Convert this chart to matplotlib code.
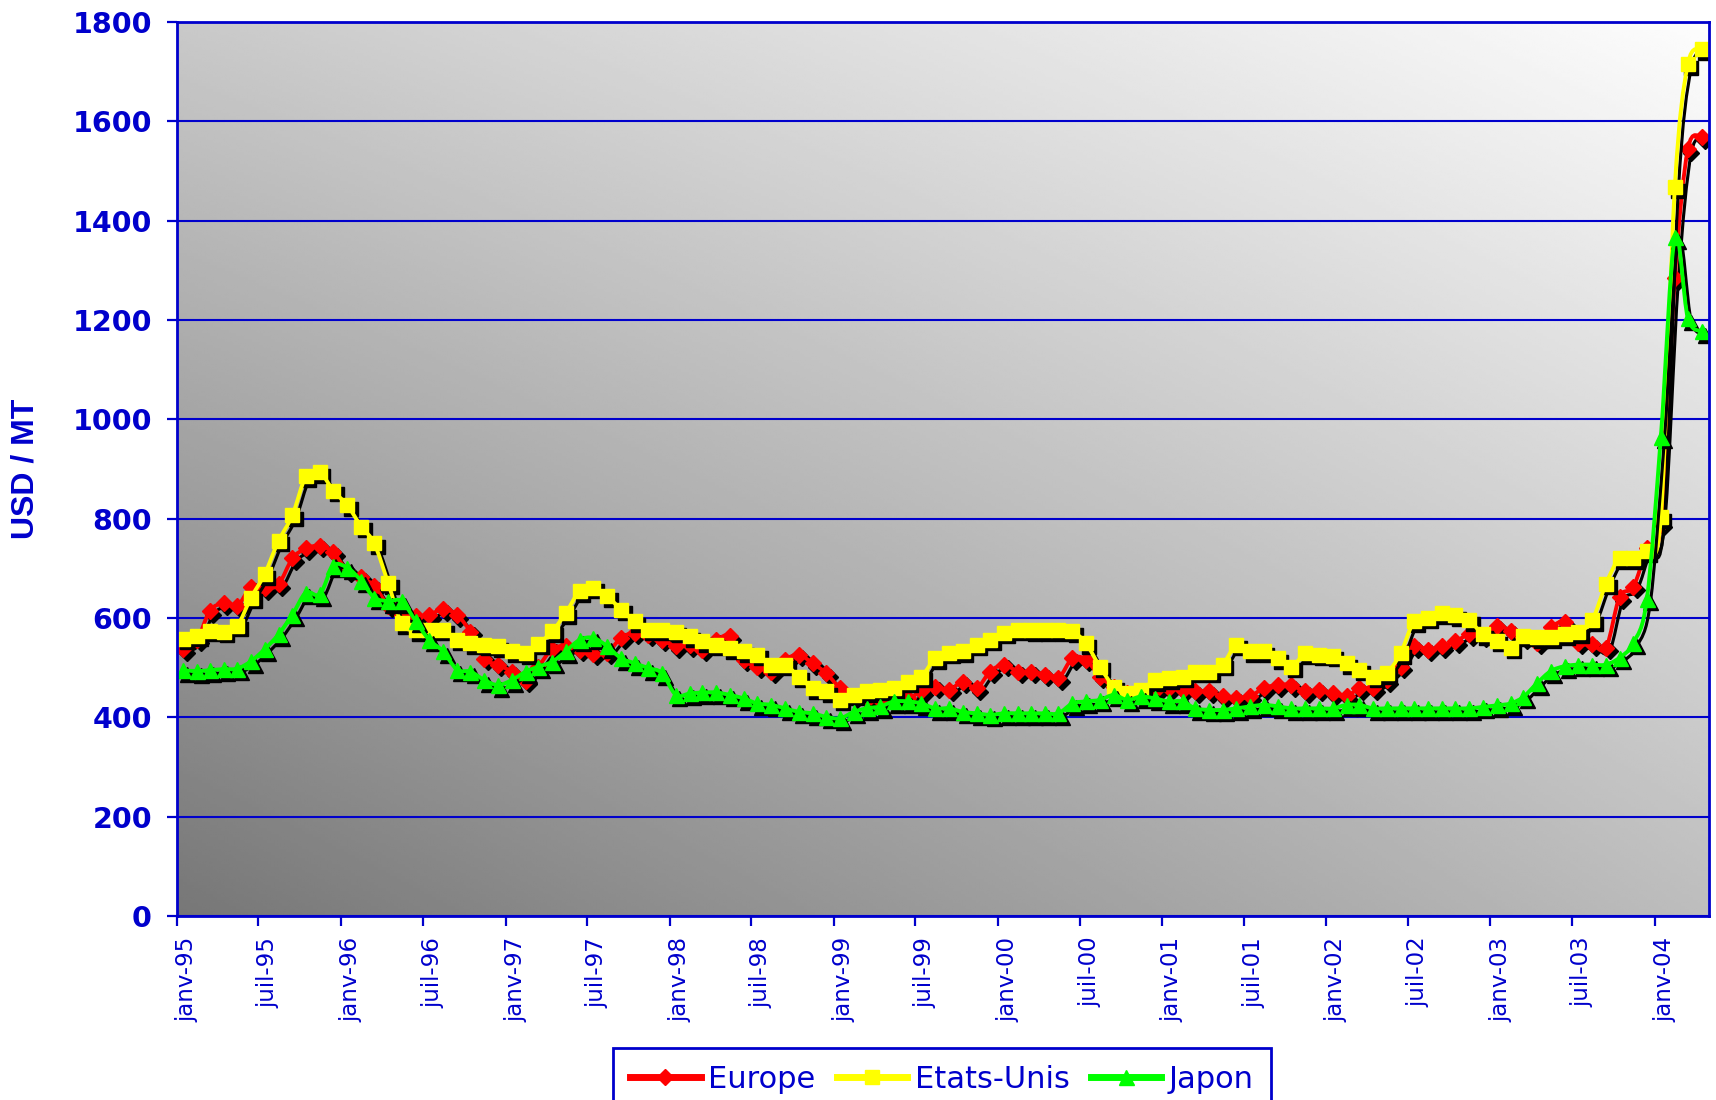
import numpy as np
import pandas as pd
import matplotlib
matplotlib.use("Agg")
import matplotlib.pyplot as plt
import matplotlib.dates as mdates
from matplotlib.path import Path
from matplotlib.patches import PathPatch
from matplotlib.lines import Line2D
from matplotlib.transforms import ScaledTranslation

# monthly prices, janv-95 .. avr-04 (USD / MT)
europe = [537, 556, 614, 630, 624, 662, 660, 668, 720, 740, 745, 732, 695, 682, 664, 625, 607, 603,
          606, 618, 606, 572, 518, 506, 492, 474, 502, 538, 543, 536, 528, 530, 560, 570, 566, 556, 543,
          545, 536, 556, 563, 516, 502, 492, 516, 526, 509, 489, 459, 442, 435, 435, 438, 438, 452, 462,
          455, 472, 459, 492, 506, 492, 492, 486, 479, 519, 516, 482, 462, 448, 448, 452, 459, 455, 452,
          452, 442, 438, 442, 459, 465, 465, 452, 455, 448, 442, 459, 459, 475, 502, 543, 536, 543, 553,
          567, 564, 584, 574, 561, 550, 581, 591, 550, 547, 540, 642, 663, 740, 790, 1284, 1544, 1568]

etats_unis = [558, 564, 574, 572, 584, 641, 688, 755, 807, 885, 893, 856, 827, 784, 750, 670, 589, 575,
              576, 576, 556, 549, 546, 543, 533, 529, 548, 573, 610, 654, 661, 644, 617, 593, 576, 576, 572,
              563, 553, 546, 539, 533, 526, 506, 506, 482, 459, 452, 435, 445, 452, 455, 459, 472, 482, 519,
              530, 533, 546, 556, 570, 576, 575, 575, 575, 573, 549, 502, 462, 448, 455, 475, 479, 482, 492,
              492, 506, 546, 533, 533, 519, 502, 529, 526, 524, 509, 496, 482, 489, 529, 593, 600, 610, 606,
              595, 567, 554, 540, 564, 561, 561, 567, 571, 595, 669, 720, 720, 734, 803, 1467, 1715, 1745]

japon = [495, 493, 495, 497, 498, 513, 537, 567, 607, 651, 648, 705, 701, 675, 641, 634, 634, 594,
         556, 533, 496, 492, 475, 465, 475, 492, 502, 512, 533, 556, 560, 543, 519, 509, 499, 489, 445,
         448, 450, 450, 445, 438, 428, 425, 418, 411, 408, 401, 398, 411, 418, 422, 432, 432, 428, 418,
         418, 411, 408, 405, 408, 408, 408, 408, 408, 428, 432, 435, 445, 435, 442, 438, 432, 432, 418,
         415, 415, 418, 422, 425, 422, 418, 418, 418, 418, 425, 425, 418, 418, 418, 418, 418, 418, 418,
         418, 421, 424, 428, 441, 469, 493, 503, 506, 506, 506, 520, 550, 639, 965, 1367, 1204, 1177]

series_names = ["Europe", "Etats-Unis", "Japon"]
series_colors = ["#FF0000", "#FFFF00", "#00FF00"]
series_markers = ["D", "s", "^"]
series_sizes = [7.8, 10.3, 10.8]

month_names = {1: "janv", 7: "juil"}
blue = "#0000CC"

months = pd.date_range("1995-01-01", periods=len(europe), freq="MS")
x = mdates.date2num((months + pd.Timedelta(days=14)).values)
tick_dates = pd.date_range("1995-01-01", "2004-01-01", freq="6MS")
tick_labels = [f"{month_names[d.month]}-{d.year % 100:02d}" for d in tick_dates]


def smooth_path(xs, ys):
    # bezier through every point, excel-style smoothing
    pts = np.column_stack([xs, ys])
    n = len(pts)
    verts = [pts[0]]
    codes = [Path.MOVETO]
    for i in range(n - 1):
        p0 = pts[i - 1] if i > 0 else pts[i]
        p1, p2 = pts[i], pts[i + 1]
        p3 = pts[i + 2] if i + 2 < n else pts[i + 1]
        verts += [p1 + (p2 - p0) / 6.0, p2 - (p3 - p1) / 6.0, p2]
        codes += [Path.CURVE4] * 3
    return Path(np.array(verts), codes)


fig = plt.figure(figsize=(17.16, 11), dpi=100)
ax = fig.add_axes([0.1031, 0.1673, 0.8928, 0.8127])

# diagonal grey gradient behind the plot
gx, gy = np.meshgrid(np.linspace(0, 1, 400), np.linspace(0, 1, 300))
grad = (119 + 70 * gx + 82 * gy - 18 * gx * gy) / 255.0
ax.imshow(grad, extent=(0, 1, 0, 1), transform=ax.transAxes, origin="lower",
          cmap="gray", vmin=0, vmax=1, aspect="auto", zorder=0, interpolation="bilinear")

shadow = ScaledTranslation(3.5 / 100, -3.5 / 100, fig.dpi_scale_trans)
lw = 2.8
for k, vals in enumerate([europe, etats_unis, japon]):
    y = np.array(vals, dtype=float)
    path = smooth_path(x, y)
    z = 3 + k
    ax.add_patch(PathPatch(path, fill=False, ec="black", lw=lw * 0.8, joinstyle="round",
                           transform=ax.transData + shadow, zorder=z))
    ax.plot(x, y, ls="none", marker=series_markers[k], ms=series_sizes[k], color="black",
            transform=ax.transData + shadow, zorder=z)
    ax.add_patch(PathPatch(path, fill=False, ec=series_colors[k], lw=lw, joinstyle="round",
                           zorder=z + 0.5))
    ax.plot(x, y, ls="none", marker=series_markers[k], ms=series_sizes[k],
            color=series_colors[k], mec=series_colors[k], zorder=z + 0.5)

ax.set_xlim(mdates.date2num(np.datetime64("1995-01-01")), mdates.date2num(np.datetime64("2004-05-01")))
ax.set_ylim(0, 1800)
ax.set_yticks(np.arange(0, 1801, 200))
ax.set_xticks(mdates.date2num(tick_dates.values))
ax.set_xticklabels(tick_labels, rotation=90, fontsize=16.5, color=blue)
ax.set_yticklabels([str(v) for v in range(0, 1801, 200)], fontsize=20.5, fontweight="bold", color=blue)
ax.tick_params(axis="both", colors=blue, length=7, width=1.6, direction="out")
ax.tick_params(axis="y", pad=11)
ax.tick_params(axis="x", pad=8)
for lab in ax.get_xticklabels():
    lab.set_transform(lab.get_transform() + ScaledTranslation(10 / 100, 0, fig.dpi_scale_trans))

ax.grid(axis="y", color=blue, lw=1.5)
for gl in ax.get_ygridlines():
    gl.set_zorder(1)
for sp in ax.spines.values():
    sp.set_color(blue)
    sp.set_linewidth(2)
    sp.set_zorder(10)

ax.set_ylabel("USD / MT", fontsize=23, fontweight="bold", color=blue, family="Liberation Sans")
ax.yaxis.set_label_coords(-0.089, 0.5)

handles = [Line2D([], [], color=c, lw=5, marker=m, ms=s, mec=c)
           for c, m, s in zip(series_colors, series_markers, series_sizes)]
leg = fig.legend(handles, series_names, loc="upper center", bbox_to_anchor=(0.549, 0.0473),
                 bbox_transform=fig.transFigure, ncol=3, fancybox=False, edgecolor=blue,
                 facecolor="white", framealpha=1, fontsize=22, handlelength=2.3,
                 handletextpad=0.25, columnspacing=0.7, borderpad=0.55, borderaxespad=0,
                 labelcolor=blue)
leg.get_frame().set_linewidth(2)

fig.savefig("out.png", dpi=100)
